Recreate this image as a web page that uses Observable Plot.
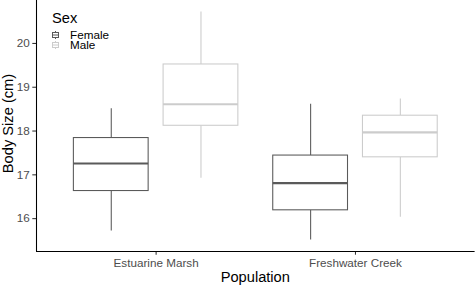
<!DOCTYPE html>
<html>
<head>
<meta charset="utf-8">
<script src="https://cdn.jsdelivr.net/npm/d3@7"></script>
<script src="https://cdn.jsdelivr.net/npm/@observablehq/plot@0.6"></script>
<style>
  html, body { margin: 0; padding: 0; background: #fff; overflow: hidden; }
  #chart svg { display: block; }
</style>
</head>
<body>
<div id="chart"></div>
<script>
// ---- Data ----
const populations = ["Estuarine Marsh", "Freshwater Creek"];
const sexes = ["Female", "Male"];
const groupPopulation = ["Estuarine Marsh", "Estuarine Marsh", "Freshwater Creek", "Freshwater Creek"];
const groupSex = ["Female", "Male", "Female", "Male"];
const lowerWhisker = [15.72, 16.92, 15.51, 16.03];
const q1 = [16.63, 18.12, 16.19, 17.40];
const median = [17.26, 18.61, 16.81, 17.97];
const q3 = [17.84, 19.52, 17.44, 18.35];
const upperWhisker = [18.51, 20.72, 18.61, 18.73];
const yTicks = [16, 17, 18, 19, 20];
const sexColors = ["#5a5a5a", "#cccccc"];

// ---- Layout parameters (ggplot-like dodge) ----
const dodge = 0.225, halfBox = 0.1875;
const font = "'Liberation Sans', Arial, Helvetica, sans-serif";

const rows = groupSex.map((sex, i) => {
  const xc = populations.indexOf(groupPopulation[i]) + 1 + (sexes.indexOf(sex) === 0 ? -dodge : dodge);
  return {
    population: groupPopulation[i], sex,
    x: xc, xl: xc - halfBox, xr: xc + halfBox,
    lo: lowerWhisker[i], q1: q1[i], med: median[i], q3: q3[i], hi: upperWhisker[i]
  };
});

const yMin = d3.min(lowerWhisker), yMax = d3.max(upperWhisker);
const yPad = (yMax - yMin) * 0.05;
const yDomain = [yMin - yPad, yMax + yPad];
const xDomain = [0.4, populations.length + 0.6];

const plot = Plot.plot({
  width: 475,
  height: 286,
  marginLeft: 36,
  marginRight: 0.4,
  marginTop: 0,
  marginBottom: 35,
  style: { fontFamily: font, fontSize: "11.7px", color: "#4d4d4d", background: "#fff", overflow: "visible" },
  x: {
    domain: xDomain, ticks: populations.map((_, i) => i + 1),
    tickFormat: d => populations[d - 1], tickSize: 3.7, tickPadding: 3, label: null
  },
  y: { domain: yDomain, ticks: yTicks, tickFormat: d => String(d), tickSize: 3.7, tickPadding: 3, label: null },
  color: { domain: sexes, range: sexColors },
  marks: [
    Plot.ruleX(rows, { x: "x", y1: "lo", y2: "q1", stroke: "sex", strokeWidth: 1.07 }),
    Plot.ruleX(rows, { x: "x", y1: "q3", y2: "hi", stroke: "sex", strokeWidth: 1.07 }),
    Plot.rect(rows, { x1: "xl", x2: "xr", y1: "q1", y2: "q3", fill: "white", stroke: "sex", strokeWidth: 1.07 }),
    Plot.ruleY(rows, { x1: "xl", x2: "xr", y: "med", stroke: "sex", strokeWidth: 2.1 }),
    Plot.ruleY([yDomain[0]], { stroke: "black", strokeWidth: 1.07 }),
    Plot.ruleX([xDomain[0]], { stroke: "black", strokeWidth: 1.07 })
  ]
});

document.getElementById("chart").appendChild(plot);

const svg = d3.select(plot);
svg.selectAll('g[aria-label$="-axis tick"] path').attr("stroke", "#333333").attr("stroke-width", 1.07);

const xs = plot.scale("x"), ys = plot.scale("y"), cs = plot.scale("color");
const xr = xs.range, yr = ys.range;

// Axis titles
svg.append("text")
  .attr("x", (xr[0] + xr[1]) / 2).attr("y", 282)
  .attr("text-anchor", "middle")
  .attr("font-family", font).attr("font-size", "14.67px").attr("fill", "black")
  .text("Population");
svg.append("text")
  .attr("transform", `translate(12.8,${(yr[0] + yr[1]) / 2 - 2}) rotate(-90)`)
  .attr("text-anchor", "middle")
  .attr("font-family", font).attr("font-size", "14.67px").attr("fill", "black")
  .text("Body Size (cm)");

// Legend (inside panel, top-left)
const lg = svg.append("g").attr("font-family", font).attr("text-anchor", "start");
lg.append("text").attr("x", 52).attr("y", 22.5).attr("text-anchor", "start")
  .attr("font-size", "14.67px").attr("fill", "black").text("Sex");
sexes.forEach((s, i) => {
  const cy = 35 + i * 10, cx = 55.5, col = cs.apply(s);
  const g = lg.append("g").attr("stroke", col).attr("fill", "white").attr("stroke-width", 1);
  g.append("line").attr("x1", cx).attr("x2", cx).attr("y1", cy - 4).attr("y2", cy + 4);
  g.append("rect").attr("x", cx - 3).attr("y", cy - 2.5).attr("width", 6).attr("height", 5);
  g.append("line").attr("x1", cx - 3).attr("x2", cx + 3).attr("y1", cy).attr("y2", cy);
  lg.append("text").attr("x", 70).attr("y", cy + 4).attr("text-anchor", "start")
    .attr("font-size", "11.7px").attr("fill", "black").text(s);
});
</script>
</body>
</html>
